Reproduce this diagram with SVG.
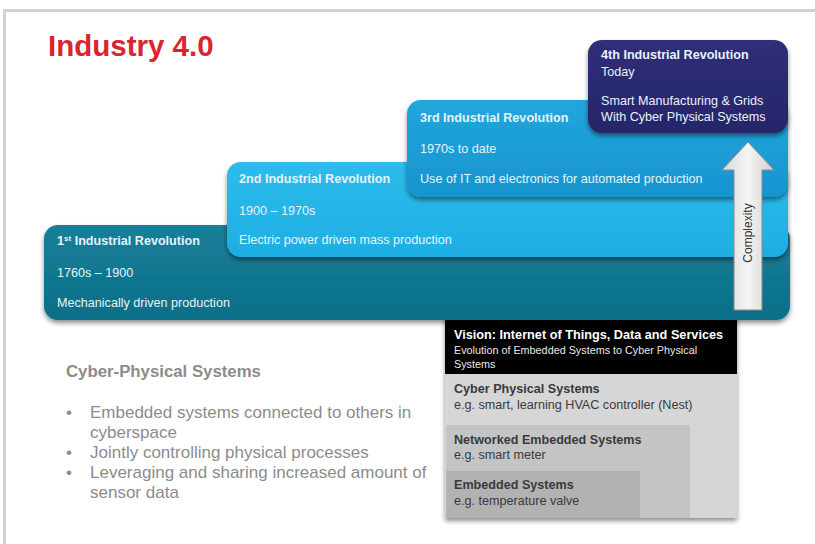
<svg xmlns="http://www.w3.org/2000/svg" width="815" height="544" viewBox="0 0 815 544">
<defs>
<filter id="sh" x="-10%" y="-10%" width="120%" height="130%">
<feGaussianBlur in="SourceAlpha" stdDeviation="2.5"/>
<feOffset dx="0" dy="3" result="b"/>
<feComponentTransfer><feFuncA type="linear" slope="0.45"/></feComponentTransfer>
<feMerge><feMergeNode/><feMergeNode in="SourceGraphic"/></feMerge>
</filter>
<linearGradient id="g1" x1="0" y1="0" x2="0" y2="1"><stop offset="0" stop-color="#167f99"/><stop offset="1" stop-color="#0d6f88"/></linearGradient>
<linearGradient id="g2" x1="0" y1="0" x2="0" y2="1"><stop offset="0" stop-color="#2dbcec"/><stop offset="1" stop-color="#1eaee3"/></linearGradient>
<linearGradient id="g3" x1="0" y1="0" x2="0" y2="1"><stop offset="0" stop-color="#22a6dc"/><stop offset="1" stop-color="#1794cf"/></linearGradient>
<linearGradient id="g4" x1="0" y1="0" x2="0" y2="1"><stop offset="0" stop-color="#302e78"/><stop offset="1" stop-color="#27256a"/></linearGradient>
<linearGradient id="ga" x1="0" y1="0" x2="1" y2="0"><stop offset="0" stop-color="#d8d8d8"/><stop offset="0.5" stop-color="#f4f4f4"/><stop offset="1" stop-color="#cfcfcf"/></linearGradient>
</defs>
<style>
text{font-family:"Liberation Sans",Arial,sans-serif}
.bt{fill:#e6f3f8;font-size:12.6px;font-weight:bold}
.rt{fill:#e6f3f8;font-size:12.6px}
.gt{fill:#3a3a3a;font-size:12.6px;font-weight:bold}
.gs{fill:#3a3a3a;font-size:12.6px}
.lt{fill:#8c8c8c;font-size:17px}
</style>
<rect x="0" y="0" width="815" height="544" fill="#ffffff"/>
<path d="M4.5 544 V10.5 H815" fill="none" stroke="#d2d2d2" stroke-width="3"/>
<g id="title"><text x="48" y="56" font-size="29.5" font-weight="bold" fill="#d7262f">Industry 4.0</text></g>

<g id="cps-stack">
<rect x="445" y="300" width="292" height="218" fill="#000" filter="url(#sh)"/>
<rect x="445" y="374" width="292" height="144" fill="#d6d6d6"/>
<rect x="446" y="425" width="244" height="93" fill="#c4c4c4"/>
<rect x="446" y="471" width="194" height="47" fill="#b2b2b2"/>
<text x="454" y="339" fill="#fff" font-size="12.7" font-weight="bold">Vision: Internet of Things, Data and Services</text>
<text x="454" y="354" fill="#e8e8e8" font-size="10.8">Evolution of Embedded Systems to Cyber Physical</text>
<text x="454" y="368" fill="#e8e8e8" font-size="10.8">Systems</text>
<text class="gt" x="454" y="393">Cyber Physical Systems</text>
<text class="gs" x="454" y="409">e.g. smart, learning HVAC controller (Nest)</text>
<text class="gt" x="454" y="444">Networked Embedded Systems</text>
<text class="gs" x="454" y="459">e.g. smart meter</text>
<text class="gt" x="454" y="489">Embedded Systems</text>
<text class="gs" x="454" y="505">e.g. temperature valve</text>
</g>

<g id="rev1">
<rect x="44" y="225" width="746" height="95" rx="14" fill="url(#g1)" filter="url(#sh)"/>
<text class="bt" x="57" y="245">1<tspan font-size="8" dy="-4">st</tspan><tspan dy="4"> Industrial Revolution</tspan></text>
<text class="rt" x="57" y="277">1760s – 1900</text>
<text class="rt" x="57" y="307">Mechanically driven production</text>
</g>
<g id="rev2">
<rect x="227" y="162" width="561" height="95" rx="14" fill="url(#g2)" filter="url(#sh)"/>
<text class="bt" x="239" y="183">2nd Industrial Revolution</text>
<text class="rt" x="239" y="215">1900 – 1970s</text>
<text class="rt" x="239" y="244">Electric power driven mass production</text>
</g>
<g id="rev3">
<rect x="407" y="100" width="381" height="97" rx="14" fill="url(#g3)" filter="url(#sh)"/>
<text class="bt" x="420" y="122">3rd Industrial Revolution</text>
<text class="rt" x="420" y="153">1970s to date</text>
<text class="rt" x="420" y="183">Use of IT and electronics for automated production</text>
</g>
<g id="rev4">
<rect x="588" y="40" width="200" height="93" rx="14" fill="url(#g4)" filter="url(#sh)"/>
<text class="bt" x="601" y="59">4th Industrial Revolution</text>
<text class="rt" x="601" y="76">Today</text>
<text class="rt" x="601" y="105">Smart Manufacturing &amp; Grids</text>
<text class="rt" x="601" y="121">With Cyber Physical Systems</text>
</g>

<g id="connectors">
<polygon points="748,142 774,170 762,170 762,310 734,310 734,170 722,170" fill="url(#ga)" stroke="#8a8a8a" stroke-width="1"/>
<text x="0" y="0" transform="translate(752,233) rotate(-90)" text-anchor="middle" font-size="12" fill="#333">Complexity</text>
</g>

<g id="cps-text">
<text x="66" y="377" font-size="16.8" font-weight="bold" fill="#8c8c8c">Cyber-Physical Systems</text>
<text class="lt" x="66" y="418">•</text>
<text class="lt" x="90" y="418">Embedded systems connected to others in</text>
<text class="lt" x="90" y="438">cyberspace</text>
<text class="lt" x="66" y="458">•</text>
<text class="lt" x="90" y="458">Jointly controlling physical processes</text>
<text class="lt" x="66" y="478">•</text>
<text class="lt" x="90" y="478">Leveraging and sharing increased amount of</text>
<text class="lt" x="90" y="498">sensor data</text>
</g>
</svg>
